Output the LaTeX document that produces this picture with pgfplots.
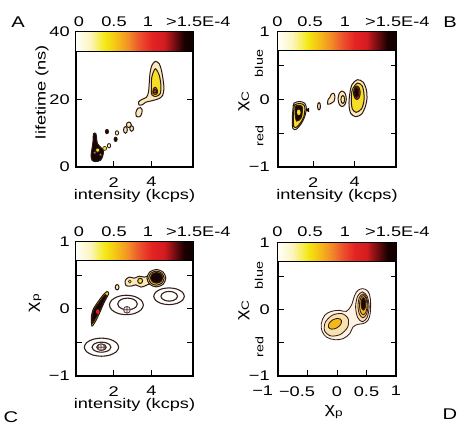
\documentclass[border=0pt]{standalone}
\usepackage{fontspec}
\setmainfont{Liberation Sans}[FakeStretch=1.3]
\usepackage{pgfplots}
\pgfplotsset{compat=1.18}
\usepackage{pgfplotstable}

\definecolor{cbeige}{RGB}{250,232,190}
\definecolor{cyel}{RGB}{245,222,40}
\definecolor{clyel}{RGB}{250,236,150}
\definecolor{cora}{RGB}{240,150,30}
\definecolor{cred}{RGB}{228,35,35}
\definecolor{cblk}{RGB}{25,5,5}
\definecolor{cline}{RGB}{45,25,15}
\definecolor{celine}{RGB}{55,30,25}
\definecolor{dA}{RGB}{252,243,228}
\definecolor{dB}{RGB}{250,226,175}
\definecolor{dC}{RGB}{247,205,110}
\definecolor{dD}{RGB}{243,185,25}

\pgfplotstableread{
f r
0 0
0.05 0
0.1 0
0.15 0
0.2 0
0.25 0
0.3 0
0.35 0
0.4 0
0.45 0
0.5 0
0.55 0
0.6 0
0.65 0
0.7 0
0.75 0
0.8 0
0.85 0
0.9 0
0.95 0
1 0
0 1
0.05 1
0.1 1
0.15 1
0.2 1
0.25 1
0.3 1
0.35 1
0.4 1
0.45 1
0.5 1
0.55 1
0.6 1
0.65 1
0.7 1
0.75 1
0.8 1
0.85 1
0.9 1
0.95 1
1 1
}\cbtab

\pgfplotsset{
  panel/.style={
    scale only axis, anchor=south west,
    axis line style={line width=1.1pt},
    tick align=inside, major tick length=5.5pt,
    every tick/.style={black, line width=1pt},
    xtick pos=left, ytick pos=both,
    tick label style={font=\fontsize{14}{16}\selectfont},
    xticklabel style={yshift=-5.5pt},
    colormap={cb}{rgb255(0cm)=(255,255,250); rgb255(12cm)=(252,245,190); rgb255(25cm)=(244,232,20); rgb255(33cm)=(245,200,20); rgb255(45cm)=(242,140,40); rgb255(55cm)=(236,80,45); rgb255(65cm)=(228,35,35); rgb255(75cm)=(210,28,32); rgb255(85cm)=(110,12,15); rgb255(93cm)=(25,0,0); rgb255(100cm)=(15,0,0)},
    point meta min=0, point meta max=1,
  },
  blob/.style={draw=cline, line width=1pt, smooth cycle},
  ell/.style={draw=celine, line width=1.1pt, smooth cycle},
  dblob/.style={draw=celine, line width=0.85pt, smooth cycle},
}

\begin{document}
\fontsize{14}{16}\selectfont
\begin{tikzpicture}
\useasboundingbox (0,0) rectangle (463pt,425pt);

% ---------------- Panel A ----------------
\begin{axis}[panel, at={(76pt,258pt)}, width=117pt, height=135pt,
  xmin=0, xmax=6.2, ymin=0, ymax=40,
  xtick={2,4}, xticklabels={2,4},
  ytick={0,20,40}, yticklabels={0,20,40},
  yticklabel style={xshift=-1.5pt}]
\addplot[surf, shader=interp, mesh/cols=21, point meta=\thisrow{f}]
  table[x expr={\thisrow{f}*6.2}, y expr={34.2+\thisrow{r}*5.8}] {\cbtab};
\addplot[black, line width=1pt] coordinates {(0,34.2) (6.2,34.2)};
% big blob
\addplot[blob, fill=cbeige] coordinates {(4.2,31.3) (4.41,30.6) (4.53,28.6) (4.62,25.7) (4.66,23.2) (4.59,21.2) (4.41,20.3) (4.14,19.8) (3.92,19.5) (3.7,19.2) (3.53,18.5) (3.35,18.3) (3.32,19.3) (3.49,20.0) (3.74,20.7) (3.84,22.2) (3.88,24.7) (3.92,27.7) (4.02,30.1)};
\addplot[blob, fill=cyel] coordinates {(4.2,29.1) (4.41,27.2) (4.5,24.2) (4.46,21.7) (4.23,20.9) (4.02,21.4) (3.99,23.7) (4.02,26.7)};
\addplot[blob, fill=cora] coordinates {(4.08,21.7) (4.28,21.6) (4.32,22.6) (4.22,23.6) (4.1,23.2)};
\addplot[blob, fill=cred] coordinates {(4.12,22.0) (4.25,21.9) (4.26,22.7) (4.18,23.1) (4.12,22.6)};
% tail
\addplot[blob, fill=cbeige] coordinates {(3.2,15.0) (3.38,14.9) (3.48,15.8) (3.5,17.0) (3.42,17.6) (3.28,17.4) (3.18,16.3)};
% cluster
\addplot[blob, fill=cbeige] coordinates {(2.72,11.0) (2.69,11.71) (2.62,12.0) (2.55,11.71) (2.52,11.0) (2.55,10.29) (2.62,10.0) (2.69,10.29)};
\addplot[blob, fill=cbeige] coordinates {(2.93,12.5) (2.89,13.07) (2.8,13.3) (2.71,13.07) (2.67,12.5) (2.71,11.93) (2.8,11.7) (2.89,11.93)};
\addplot[blob, fill=cbeige] coordinates {(3.05,11.4) (3.02,11.97) (2.95,12.2) (2.88,11.97) (2.85,11.4) (2.88,10.83) (2.95,10.6) (3.02,10.83)};
% dots
\addplot[only marks, mark=*, mark size=1.7pt, mark options={fill=cbeige, draw=cline, line width=0.8pt, yscale=1.3}] coordinates {(2.17,10.1) (1.75,6.3)};
\addplot[only marks, mark=*, mark size=1.6pt, mark options={fill=cblk, draw=cline, line width=0.8pt, yscale=1.4}] coordinates {(1.64,10.5) (2.1,8.2)};
% black cluster
\addplot[blob, fill=cblk] coordinates {(0.93,9.9) (1.06,9.8) (1.1,8.0) (1.15,6.8) (1.32,5.8) (1.45,4.8) (1.42,3.3) (1.3,2.0) (1.05,1.6) (0.85,2.0) (0.8,3.5) (0.85,5.5) (0.9,7.5)};
\addplot[only marks, mark=*, mark size=2pt, mark options={fill=cyel, draw=cline, line width=0.6pt}] coordinates {(1.15,5.0) (1.52,5.5)};
\addplot[only marks, mark=*, mark size=1.2pt, mark options={fill=cbeige, draw=cline, line width=0.5pt}] coordinates {(1.3,3.6) (1.0,4.2)};
\end{axis}

% ---------------- Panel B ----------------
\begin{axis}[panel, at={(278pt,258pt)}, width=118pt, height=135pt,
  xmin=0.3, xmax=6, ymin=-1, ymax=1,
  xtick={2,4}, xticklabels={2,4},
  ytick={-1,-0.5,0,0.5,1}, yticklabels={−1,,0,,1},
  yticklabel style={xshift=-3.5pt}]
\addplot[surf, shader=interp, mesh/cols=21, point meta=\thisrow{f}]
  table[x expr={0.3+\thisrow{f}*5.7}, y expr={0.72+\thisrow{r}*0.28}] {\cbtab};
\addplot[black, line width=1pt] coordinates {(0.3,0.72) (6,0.72)};
% big blob
\addplot[blob, fill=cbeige] coordinates {(4.13,0.293) (4.41,0.258) (4.57,0.144) (4.6,0.02) (4.52,-0.105) (4.33,-0.22) (4.04,-0.254) (3.81,-0.204) (3.73,-0.08) (3.76,0.069) (3.87,0.219)};
\addplot[blob, fill=cyel] coordinates {(4.13,0.243) (4.36,0.204) (4.45,0.094) (4.45,-0.03) (4.33,-0.14) (4.08,-0.19) (3.89,-0.14) (3.84,-0.005) (3.89,0.144)};
\addplot[blob, fill=cred] coordinates {(4.27,0.1) (4.223,0.171) (4.11,0.2) (3.997,0.171) (3.95,0.1) (3.997,0.029) (4.11,0.0) (4.223,0.029)};
\addplot[blob, fill=cblk] coordinates {(4.2,0.105) (4.168,0.158) (4.09,0.18) (4.012,0.158) (3.98,0.105) (4.012,0.052) (4.09,0.03) (4.168,0.052)};
% middle blobs
\addplot[blob, fill=cbeige] coordinates {(3.6,0.01) (3.541,0.091) (3.4,0.125) (3.259,0.091) (3.2,0.01) (3.259,-0.071) (3.4,-0.105) (3.541,-0.071)};
\addplot[blob, fill=clyel] coordinates {(3.52,0.0) (3.494,0.042) (3.43,0.06) (3.366,0.042) (3.34,0.0) (3.366,-0.042) (3.43,-0.06) (3.494,-0.042)};
\addplot[blob, fill=cbeige] coordinates {(2.7,-0.07) (2.85,-0.06) (3.0,-0.03) (3.05,0.04) (3.0,0.09) (2.88,0.08) (2.8,0.03) (2.72,0.0)};
\addplot[blob, fill=cbeige] coordinates {(2.35,-0.1) (2.33,-0.061) (2.28,-0.045) (2.23,-0.061) (2.21,-0.1) (2.23,-0.139) (2.28,-0.155) (2.33,-0.139)};
% left blob
\addplot[blob, fill=cbeige] coordinates {(1.07,-0.055) (1.35,-0.03) (1.59,-0.055) (1.67,-0.13) (1.59,-0.254) (1.43,-0.354) (1.19,-0.44) (1.02,-0.43) (0.99,-0.304) (1.02,-0.155)};
\addplot[blob, fill=cyel] coordinates {(1.1,-0.08) (1.35,-0.06) (1.55,-0.08) (1.6,-0.14) (1.55,-0.25) (1.42,-0.33) (1.2,-0.41) (1.06,-0.4) (1.04,-0.3) (1.06,-0.16)};
\addplot[blob, fill=cblk] coordinates {(1.15,-0.1) (1.45,-0.1) (1.47,-0.2) (1.4,-0.28) (1.2,-0.32) (1.13,-0.22)};
\addplot[only marks, mark=*, mark size=1.6pt, mark options={fill=cyel, draw=cyel, yscale=1.6}] coordinates {(1.3,-0.19)};
\addplot[only marks, mark=triangle*, mark size=2.2pt, mark options={fill=cblk, draw=cblk, rotate=90}] coordinates {(1.74,-0.155)};
\end{axis}

% ---------------- Panel C ----------------
\begin{axis}[panel, at={(76pt,49pt)}, width=117pt, height=134pt,
  xmin=0, xmax=6.2, ymin=-1, ymax=1,
  xtick={2,4}, xticklabels={2,4},
  ytick={-1,-0.5,0,0.5,1}, yticklabels={−1,,0,,1},
  yticklabel style={xshift=-1.5pt}]
\addplot[surf, shader=interp, mesh/cols=21, point meta=\thisrow{f}]
  table[x expr={\thisrow{f}*6.2}, y expr={0.72+\thisrow{r}*0.28}] {\cbtab};
\addplot[black, line width=1pt] coordinates {(0,0.72) (6.2,0.72)};
% model ellipses
\addplot[ell] coordinates {(3.57,0.06) (3.449,0.1325) (3.12,0.1856) (2.67,0.205) (2.22,0.1856) (1.891,0.1325) (1.77,0.06) (1.891,-0.0125) (2.22,-0.0656) (2.67,-0.085) (3.12,-0.0656) (3.449,-0.0125)};
\addplot[ell] coordinates {(3.25,0.075) (3.18,0.1185) (2.99,0.1503) (2.73,0.162) (2.47,0.1503) (2.28,0.1185) (2.21,0.075) (2.28,0.0315) (2.47,-0.0003) (2.73,-0.012) (2.99,-0.0003) (3.18,0.0315)};
\addplot[ell] coordinates {(5.74,0.19) (5.631,0.2525) (5.335,0.2983) (4.93,0.315) (4.525,0.2983) (4.229,0.2525) (4.12,0.19) (4.229,0.1275) (4.525,0.0817) (4.93,0.065) (5.335,0.0817) (5.631,0.1275)};
\addplot[ell] coordinates {(5.38,0.19) (5.321,0.226) (5.16,0.2524) (4.94,0.262) (4.72,0.2524) (4.559,0.226) (4.5,0.19) (4.559,0.154) (4.72,0.1276) (4.94,0.118) (5.16,0.1276) (5.321,0.154)};
\addplot[ell] coordinates {(2.26,-0.57) (2.138,-0.5025) (1.805,-0.4531) (1.35,-0.435) (0.895,-0.4531) (0.562,-0.5025) (0.44,-0.57) (0.562,-0.6375) (0.895,-0.6869) (1.35,-0.705) (1.805,-0.6869) (2.138,-0.6375)};
\addplot[ell] coordinates {(1.85,-0.57) (1.783,-0.5325) (1.6,-0.505) (1.35,-0.495) (1.1,-0.505) (0.917,-0.5325) (0.85,-0.57) (0.917,-0.6075) (1.1,-0.635) (1.35,-0.645) (1.6,-0.635) (1.783,-0.6075)};
\addplot[ell] coordinates {(1.6,-0.57) (1.527,-0.538) (1.35,-0.525) (1.173,-0.538) (1.1,-0.57) (1.173,-0.602) (1.35,-0.615) (1.527,-0.602)};
\addplot[only marks, mark=oplus*, mark size=3.4pt, mark options={fill={rgb,255:red,250;green,228;blue,228}, draw={rgb,255:red,80;green,60;blue,60}, line width=0.8pt}] coordinates {(2.7,-0.012) (1.33,-0.57)};
% diagonal streak
\addplot[blob, fill=cyel, tension=0.45] coordinates {(0.85,-0.255) (1.06,-0.17) (1.27,-0.046) (1.5,0.103) (1.73,0.227) (1.64,0.262) (1.41,0.2) (1.15,0.1) (0.92,0.0) (0.81,-0.12)};
\addplot[blob, fill=cblk, tension=0.45] coordinates {(0.87,-0.215) (1.04,-0.14) (1.25,-0.03) (1.46,0.1) (1.62,0.2) (1.55,0.215) (1.38,0.16) (1.14,0.065) (0.93,-0.02) (0.85,-0.12)};
\addplot[only marks, mark=*, mark size=1.4pt, mark options={fill=cred, draw=cred, yscale=1.5}] coordinates {(1.15,-0.04)};
% small blob and band
\addplot[blob, fill=cbeige] coordinates {(2.28,0.325) (2.251,0.353) (2.18,0.365) (2.109,0.353) (2.08,0.325) (2.109,0.297) (2.18,0.285) (2.251,0.297)};
\addplot[blob, fill=cbeige, tension=0.5] coordinates {(2.61,0.426) (2.82,0.476) (3.09,0.46) (3.35,0.49) (3.62,0.476) (3.97,0.5) (4.1,0.45) (3.97,0.39) (3.7,0.35) (3.44,0.327) (3.17,0.36) (2.91,0.34) (2.65,0.35)};
\addplot[blob, fill=cyel] coordinates {(3.53,0.42) (3.492,0.448) (3.4,0.46) (3.308,0.448) (3.27,0.42) (3.308,0.392) (3.4,0.38) (3.492,0.392)};
\addplot[only marks, mark=*, mark size=1.5pt, mark options={fill=cyel, draw=cline, line width=0.5pt}] coordinates {(2.85,0.41)};
% big black blob
\addplot[blob, fill=cbeige] coordinates {(4.76,0.46) (4.614,0.552) (4.26,0.59) (3.906,0.552) (3.76,0.46) (3.906,0.368) (4.26,0.33) (4.614,0.368)};
\addplot[blob, fill=cyel] coordinates {(4.67,0.46) (4.55,0.534) (4.26,0.565) (3.97,0.534) (3.85,0.46) (3.97,0.386) (4.26,0.355) (4.55,0.386)};
\addplot[blob, fill=cblk] coordinates {(4.59,0.465) (4.496,0.522) (4.27,0.545) (4.044,0.522) (3.95,0.465) (4.044,0.408) (4.27,0.385) (4.496,0.408)};
\end{axis}

% ---------------- Panel D ----------------
\begin{axis}[panel, at={(278pt,49pt)}, width=118pt, height=133pt,
  xmin=-1, xmax=1, ymin=-1, ymax=1,
  xtick={-1,-0.5,0,0.5,1},
  xticklabels={\makebox[0pt][r]{−1\kern5pt},\makebox[0pt][r]{−0.5\kern-7.5pt},0,0.5,1},
  ytick={-1,-0.5,0,0.5,1}, yticklabels={−1,,0,,1},
  yticklabel style={xshift=-3.5pt}]
\addplot[surf, shader=interp, mesh/cols=21, point meta=\thisrow{f}]
  table[x expr={-1+\thisrow{f}*2}, y expr={0.72+\thisrow{r}*0.28}] {\cbtab};
\addplot[black, line width=1pt] coordinates {(-1,0.72) (1,0.72)};
\addplot[dblob, fill=dA, tension=0.6] coordinates {(-0.266,-0.213) (-0.209,-0.088) (-0.096,-0.028) (0.045,-0.013) (0.158,-0.028) (0.243,0.062) (0.3,0.213) (0.356,0.288) (0.44,0.313) (0.525,0.273) (0.565,0.163) (0.565,-0.038) (0.525,-0.163) (0.44,-0.213) (0.356,-0.223) (0.271,-0.263) (0.215,-0.364) (0.102,-0.439) (-0.04,-0.454) (-0.18,-0.414) (-0.254,-0.324)};
\addplot[dblob, fill=dB] coordinates {(0.189,-0.137) (0.083,-0.062) (-0.078,-0.085) (-0.199,-0.193) (-0.209,-0.323) (-0.103,-0.398) (0.058,-0.375) (0.179,-0.267)};
\addplot[dblob, fill=dD] coordinates {(0.074,-0.164) (0.021,-0.134) (-0.065,-0.152) (-0.133,-0.206) (-0.144,-0.266) (-0.091,-0.296) (-0.005,-0.278) (0.063,-0.224)};
\addplot[dblob, fill=dB] coordinates {(0.545,0.04) (0.511,0.199) (0.43,0.265) (0.349,0.199) (0.315,0.04) (0.349,-0.119) (0.43,-0.185) (0.511,-0.119)};
\addplot[dblob, fill=dC] coordinates {(0.525,0.055) (0.5,0.182) (0.44,0.235) (0.38,0.182) (0.355,0.055) (0.38,-0.072) (0.44,-0.125) (0.5,-0.072)};
\addplot[dblob, fill=dD] coordinates {(0.51,0.065) (0.491,0.168) (0.445,0.21) (0.399,0.168) (0.38,0.065) (0.399,-0.038) (0.445,-0.08) (0.491,-0.038)};
\addplot[dblob, fill=cblk] coordinates {(0.487,0.085) (0.475,0.152) (0.447,0.18) (0.419,0.152) (0.407,0.085) (0.419,0.018) (0.447,-0.01) (0.475,0.018)};
\end{axis}

% ---------------- labels ----------------
\node[font=\fontsize{15.5}{17}\selectfont] at (18pt,403pt) {A};
\node[font=\fontsize{15.5}{17}\selectfont] at (450pt,403pt) {B};
\node[font=\fontsize{15.5}{17}\selectfont] at (11pt,8pt) {C};
\node[font=\fontsize{15.5}{17}\selectfont] at (450pt,11pt) {D};

% colorbar labels
\foreach \yy in {398pt,188pt}{
  \node[anchor=base] at (79pt,\yy) {0};
  \node[anchor=base] at (114pt,\yy) {0.5};
  \node[anchor=base] at (148pt,\yy) {1};
  \node[anchor=base west, inner sep=0pt] at (166pt,\yy) {>1.5E-4};
  \node[anchor=base] at (277.5pt,\yy) {0};
  \node[anchor=base] at (310pt,\yy) {0.5};
  \node[anchor=base] at (345pt,\yy) {1};
  \node[anchor=base west, inner sep=0pt] at (365pt,\yy) {>1.5E-4};
}

% axis labels
\node[rotate=90] at (42pt,333pt) {lifetime (ns)};
\node[anchor=base] at (134.5pt,225pt) {intensity (kcps)};
\node[anchor=base] at (337pt,225pt) {intensity (kcps)};
\node[anchor=base] at (134.5pt,16pt) {intensity (kcps)};
\node[font=\fontsize{15}{16}\selectfont] at (334pt,13pt) {χ\textsubscript{p}};

\node[rotate=90, font=\fontsize{15}{16}\selectfont] at (244pt,324pt) {χ\textsubscript{C}};
\node[rotate=90, font=\fontsize{11}{12}\selectfont] at (259pt,361.5pt) {blue};
\node[rotate=90, font=\fontsize{11}{12}\selectfont] at (259.5pt,289pt) {red};

\node[rotate=90, font=\fontsize{15}{16}\selectfont] at (35pt,122pt) {χ\textsubscript{p}};

\node[rotate=90, font=\fontsize{15}{16}\selectfont] at (244pt,115pt) {χ\textsubscript{C}};
\node[rotate=90, font=\fontsize{11}{12}\selectfont] at (259pt,149.5pt) {blue};
\node[rotate=90, font=\fontsize{11}{12}\selectfont] at (259.5pt,78pt) {red};
\end{tikzpicture}
\end{document}
